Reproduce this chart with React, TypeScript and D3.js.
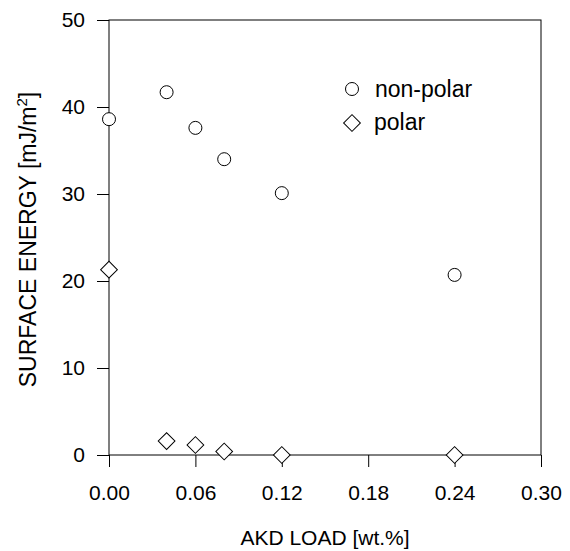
import React, { useEffect, useRef } from "react";
import * as d3 from "d3";

// AKD load [wt.%]
const nonPolarX = [0, 0.04, 0.06, 0.08, 0.12, 0.24];
const nonPolarY = [38.6, 41.7, 37.6, 34.0, 30.1, 20.7];
const polarX = [0, 0.04, 0.06, 0.08, 0.12, 0.24];
const polarY = [21.3, 1.6, 1.15, 0.4, 0.0, 0.0];

const xTicks = [0, 0.06, 0.12, 0.18, 0.24, 0.3];
const yTicks = [0, 10, 20, 30, 40, 50];

const W = 570, H = 551;
const margin = { top: 20, right: 29, bottom: 96, left: 109 };
const FONT = "'Liberation Sans', Arial, sans-serif";

function drawChart(node: SVGSVGElement) {
    const svg = d3.select(node);
    svg.selectAll("*").remove();

    const x = d3.scaleLinear().domain([0, 0.3]).range([margin.left, W - margin.right]);
    const y = d3.scaleLinear().domain([0, 50]).range([H - margin.bottom, margin.top]);

    const g = svg.append("g");

    // frame
    g.append("rect")
        .attr("x", x(0)).attr("y", y(50))
        .attr("width", x(0.3) - x(0)).attr("height", y(0) - y(50))
        .attr("fill", "none").attr("stroke", "#000").attr("stroke-width", 1);

    const xAxis = d3.axisBottom(x).tickValues(xTicks).tickSize(12).tickPadding(18)
        .tickFormat(d3.format(".2f"));
    const yAxis = d3.axisLeft(y).tickValues(yTicks).tickSize(12).tickPadding(12)
        .tickFormat(d3.format("d"));

    const gx = g.append("g").attr("transform", `translate(0,${y(0)})`).call(xAxis);
    const gy = g.append("g").attr("transform", `translate(${x(0)},0)`).call(yAxis);
    [gx, gy].forEach(a => {
        a.select(".domain").remove();
        a.selectAll("line").attr("stroke", "#000");
        a.selectAll("text").attr("font-family", FONT).attr("font-size", 21).attr("fill", "#000");
    });

    // titles
    svg.append("text")
        .attr("x", (x(0) + x(0.3)) / 2).attr("y", 545)
        .attr("text-anchor", "middle")
        .attr("font-family", FONT).attr("font-size", 21)
        .text("AKD LOAD [wt.%]");

    const yt = svg.append("text")
        .attr("transform", `translate(36,${(y(0) + y(50)) / 2 + 2}) rotate(-90)`)
        .attr("text-anchor", "middle")
        .attr("font-family", FONT).attr("font-size", 23);
    yt.append("tspan").text("SURFACE ENERGY [mJ/m");
    yt.append("tspan").attr("font-size", 15).attr("dy", -9).text("2");
    yt.append("tspan").attr("dy", 9).text("]");

    const diamond = d3.symbol().type(d3.symbolSquare).size(140);

    // non-polar
    g.selectAll(".np").data(nonPolarX).enter().append("circle")
        .attr("class", "np")
        .attr("cx", d => x(d))
        .attr("cy", (d, i) => y(nonPolarY[i]))
        .attr("r", 6.5)
        .attr("fill", "#fff").attr("stroke", "#000").attr("stroke-width", 1);

    // polar
    g.selectAll(".p").data(polarX).enter().append("path")
        .attr("class", "p")
        .attr("d", diamond)
        .attr("transform", (d, i) => `translate(${x(d)},${y(polarY[i])}) rotate(45)`)
        .attr("fill", "#fff").attr("stroke", "#000").attr("stroke-width", 1);

    // legend
    const lg = svg.append("g");
    lg.append("circle").attr("cx", 352).attr("cy", 89).attr("r", 6.5)
        .attr("fill", "#fff").attr("stroke", "#000");
    lg.append("text").attr("x", 375).attr("y", 97)
        .attr("font-family", FONT).attr("font-size", 23).text("non-polar");
    lg.append("path").attr("d", diamond)
        .attr("transform", "translate(352,123) rotate(45)")
        .attr("fill", "#fff").attr("stroke", "#000");
    lg.append("text").attr("x", 374).attr("y", 130)
        .attr("font-family", FONT).attr("font-size", 23).text("polar");
}

export default function App() {
    const ref = useRef<SVGSVGElement>(null);
    useEffect(() => { if (ref.current) drawChart(ref.current); });
    return (
        <svg ref={ref} width={W} height={H}
            style={{ position: "absolute", left: 0, top: 0, background: "#fff" }} />
    );
}
